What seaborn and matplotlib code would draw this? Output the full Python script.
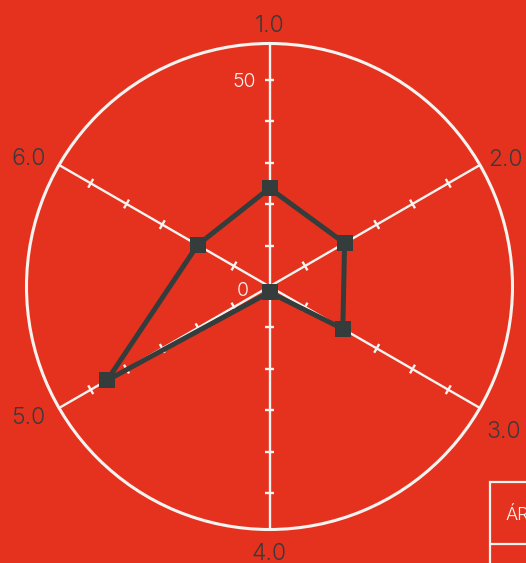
import numpy as np
import matplotlib
matplotlib.use("Agg")
import matplotlib.pyplot as plt
import seaborn as sns
from matplotlib.patches import Rectangle
from matplotlib.lines import Line2D

# ---- data ----
axis_labels = ["1.0", "2.0", "3.0", "4.0", "5.0", "6.0"]
values = [23.8, 21.0, 20.5, 1.4, 45.4, 20.1]
tick_values = [10, 20, 30, 40, 50]
shown_tick_labels = ["0", "50"]
legend_label = "ÁREA"

RED = "#E5321F"
DARK = "#343d3b"
WHITE = "#f7f3f0"
rmax = 58.84

W, H = 526, 563
sns.set_theme(style="white")
plt.rcParams["font.family"] = ["Inter", "DejaVu Sans"]

fig = plt.figure(figsize=(W / 100, H / 100), dpi=100, facecolor=RED)
cx, cy, R = 269.5, 286.5, 243
ax = fig.add_axes([(cx - R) / W, (H - cy - R) / H, 2 * R / W, 2 * R / H], projection="polar")
ax.set_facecolor("none")
ax.set_theta_zero_location("N")
ax.set_theta_direction(-1)
ax.set_ylim(0, rmax)
ax.grid(False)
ax.set_xticks([])
ax.set_yticks([])
ax.spines["polar"].set_color(WHITE)
ax.spines["polar"].set_linewidth(2.2)

n = len(axis_labels)
thetas = np.arange(n) * 2 * np.pi / n
px_per_unit = R / rmax

# spokes and tick marks
for th in thetas:
    ax.plot([th, th], [0, rmax], color=WHITE, lw=1.7, zorder=1, solid_capstyle="butt")
    for tv in tick_values:
        d = 5.0 / (tv * px_per_unit)
        ax.plot([th - d, th + d], [tv, tv], color=WHITE, lw=1.7, zorder=1, solid_capstyle="butt")

# radial labels
ax.annotate(shown_tick_labels[1], xy=(0, tick_values[-1]), xytext=(-18.4, 0), textcoords="offset points",
            ha="center", va="center_baseline", color=WHITE, fontsize=14, fontweight=300)
ax.annotate(shown_tick_labels[0], xy=(0, 0), xytext=(-19, -1.8), textcoords="offset points",
            ha="center", va="center_baseline", color=WHITE, fontsize=14, fontweight=300)

# axis labels
lab_r = [263, 269, 274.7, 264.5, 273, 273.5]
lab_ang = [0, 61.3, 121.4, 180, 241.9, 298.3]
for lbl, rr, ang in zip(axis_labels, lab_r, lab_ang):
    ax.text(np.deg2rad(ang), rr / px_per_unit, lbl, ha="center", va="center_baseline",
            color="#3a3a3a", fontsize=16.5, fontweight=300, clip_on=False)

# data polygon
th_closed = np.append(thetas, 2 * np.pi)
v_closed = values + [values[0]]
sns.lineplot(x=th_closed, y=v_closed, sort=False, estimator=None, ax=ax, color=DARK,
             linewidth=3.6, marker="s", markersize=11, markeredgewidth=0, zorder=5)
ax.set_xlabel("")
ax.set_ylabel("")
ax.set_ylim(0, rmax)

# partial legend box at bottom-right
def fx(x):
    return x / W
def fy(y):
    return 1 - y / H

fig.add_artist(Rectangle((fx(490), fy(600)), fx(600) - fx(490), fy(482) - fy(600),
                         transform=fig.transFigure, fill=False, edgecolor=WHITE, lw=1.6))
fig.add_artist(Line2D([fx(490), fx(600)], [fy(544), fy(544)], transform=fig.transFigure,
                      color=WHITE, lw=1.6))
fig.text(fx(505), fy(514), legend_label, ha="left", va="center_baseline", color=WHITE,
         fontsize=13, fontweight=300)

fig.savefig("out.png", dpi=100, facecolor=RED)
